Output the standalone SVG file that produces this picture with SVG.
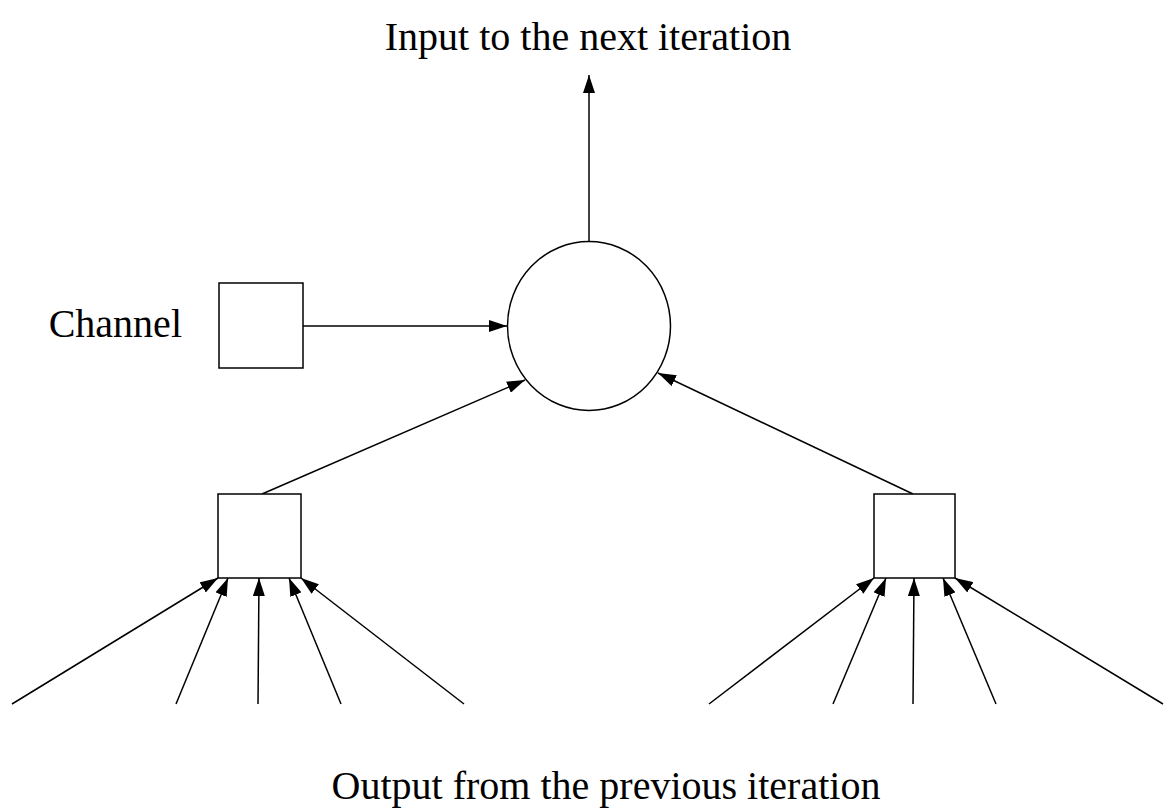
<svg xmlns="http://www.w3.org/2000/svg" width="1164" height="810" viewBox="0 0 1164 810">
<style>
.box{fill:#fff;stroke:#000;stroke-width:1.5}
.ln{stroke:#000;stroke-width:1.5;fill:none;marker-end:url(#ah)}
.t{font-family:"Liberation Serif","Times New Roman",serif;font-size:40px;fill:#000}
</style>
<defs>
<marker id="ah" markerUnits="userSpaceOnUse" markerWidth="18" markerHeight="12" refX="18" refY="6" orient="auto" viewBox="0 0 18 12">
<path d="M0,0 L18,6 L0,12 z" fill="#000"/>
</marker>
</defs>
<rect width="1164" height="810" fill="#fff"/>
<g id="connectors">
<line class="ln" x1="589" y1="242" x2="589" y2="75"/>
<line class="ln" x1="303" y1="326" x2="507" y2="326"/>
<line class="ln" x1="262" y1="494" x2="525" y2="380"/>
<line class="ln" x1="913" y1="494" x2="658" y2="373"/>
<line class="ln" x1="12" y1="704" x2="218" y2="578"/>
<line class="ln" x1="176" y1="704" x2="228" y2="578"/>
<line class="ln" x1="258" y1="704" x2="259" y2="578"/>
<line class="ln" x1="341" y1="704" x2="289" y2="578"/>
<line class="ln" x1="464" y1="704" x2="301" y2="578"/>
<line class="ln" x1="709" y1="704" x2="874" y2="578"/>
<line class="ln" x1="833" y1="704" x2="886" y2="578"/>
<line class="ln" x1="913" y1="704" x2="914" y2="578"/>
<line class="ln" x1="996" y1="704" x2="943" y2="578"/>
<line class="ln" x1="1163" y1="704" x2="955" y2="578"/>
</g>
<g id="node-circle"><ellipse class="box" cx="589" cy="326" rx="81.5" ry="84.5"/></g>
<g id="node-channel"><rect class="box" x="219" y="283" width="84" height="85"/><text class="t" x="182" y="337" text-anchor="end">Channel</text></g>
<g id="node-left"><rect class="box" x="218" y="494" width="83" height="84"/></g>
<g id="node-right"><rect class="box" x="874" y="494" width="81" height="84"/></g>
<g id="label-top"><text class="t" x="588" y="50" text-anchor="middle">Input to the next iteration</text></g>
<g id="label-bottom"><text class="t" x="606" y="799" text-anchor="middle">Output from the previous iteration</text></g>
</svg>
